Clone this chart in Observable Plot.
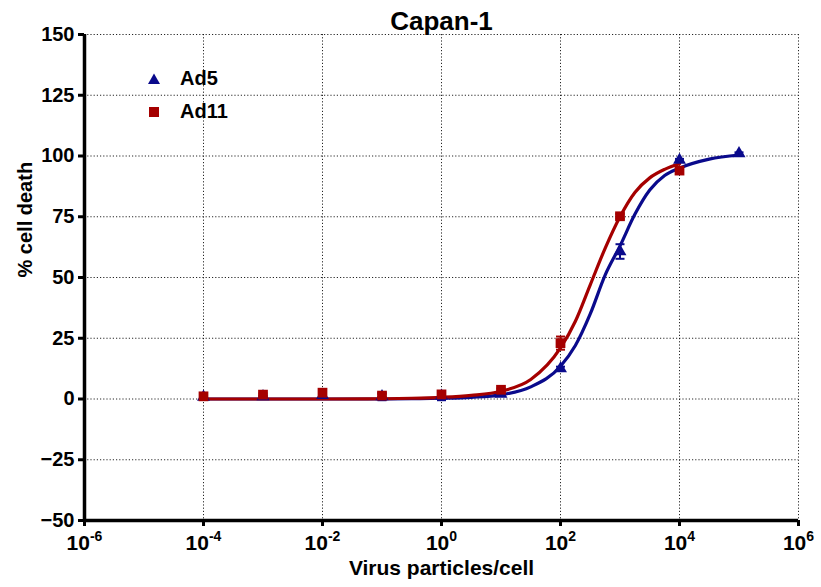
<!DOCTYPE html>
<html><head><meta charset="utf-8">
<script src="https://cdn.jsdelivr.net/npm/d3@7"></script>
<script src="https://cdn.jsdelivr.net/npm/@observablehq/plot@0.6"></script>
<style>
body{margin:0;background:#fff;font-family:"Liberation Sans",Arial,sans-serif;}
#wrap{position:relative;width:821px;height:587px;}
#legend{position:absolute;left:146px;top:62px;font-weight:bold;font-size:20px;color:#000;}
#legend .row{display:flex;align-items:center;height:33px;}
#legend svg{width:16px;height:16px;margin-right:18px;}
</style></head><body><div id="wrap"><div id="legend"></div></div>
<script>
// ---- data ----
const title = "Capan-1";
const xLabel = "Virus particles/cell";
const yLabel = "% cell death";
const seriesNames = ["Ad5", "Ad11"];
const seriesColors = ["#0a0a8c", "#a50000"];
const xTickExponents = [-6, -4, -2, 0, 2, 4, 6];
const yTicks = [-50, -25, 0, 25, 50, 75, 100, 125, 150];

const ad5Dose = [1e-4, 1e-3, 1e-2, 1e-1, 1, 10, 100, 1000, 10000, 100000];
const ad5Mean = [0.8, 1.0, 1.5, 1.0, 1.3, 2.0, 12.5, 60.7, 98.3, 101];
const ad5Sem  = [0.4, 0.4, 0.6, 1.5, 1.8, 0.4, 0.8, 3.0, 0.5, 0.5];

const ad11Dose = [1e-4, 1e-3, 1e-2, 1e-1, 1, 10, 100, 1000, 10000];
const ad11Mean = [1.1, 1.8, 2.6, 1.4, 1.9, 3.8, 23, 75.2, 94];
const ad11Sem  = [0.5, 0.5, 0.8, 0.6, 0.6, 0.5, 2.7, 1.0, 1.0];

// fitted curves (log10 dose -> % death)
const ad5CurveLog = [-4, -3, -2, -1, -0.5, 0, 0.5, 1, 1.5, 2, 2.25, 2.5, 2.75, 3, 3.25, 3.5, 3.75, 4, 4.5, 5];
const ad5CurveVal = [0, 0, 0, 0, 0.1, 0.3, 0.7, 1.7, 5, 13.5, 22, 35, 51, 63, 76, 86, 92, 95, 98.7, 100.4];
const ad11CurveLog = [-4, -3, -2, -1, -0.5, 0, 0.5, 1, 1.5, 2, 2.25, 2.5, 2.75, 3, 3.25, 3.5, 3.75, 4];
const ad11CurveVal = [0, 0, 0, 0.1, 0.3, 0.7, 1.5, 3.2, 8, 21, 32, 47, 62, 75, 85, 91, 94.5, 96.8];

// ---- build tables ----
const pts = (dose, mean, sem, s) => dose.map((d, i) => ({x: d, y: mean[i], lo: mean[i] - sem[i], hi: mean[i] + sem[i], s}));
const ad5Pts = pts(ad5Dose, ad5Mean, ad5Sem, seriesNames[0]);
const ad11Pts = pts(ad11Dose, ad11Mean, ad11Sem, seriesNames[1]);
const crv = (L, V) => L.map((l, i) => ({x: Math.pow(10, l), y: V[i]}));
const ad5Curve = crv(ad5CurveLog, ad5CurveVal);
const ad11Curve = crv(ad11CurveLog, ad11CurveVal);
const xTicks = xTickExponents.map(e => Math.pow(10, e));

const capSymbol = {draw(ctx, size) { const w = Math.sqrt(size / Math.PI); ctx.moveTo(-w, 0); ctx.lineTo(w, 0); }};

const errMarks = (data, color) => [
  Plot.ruleX(data, {x: "x", y1: "lo", y2: "hi", stroke: color, strokeWidth: 2}),
  Plot.dot(data, {x: "x", y: "lo", symbol: capSymbol, r: 4.5, stroke: color, strokeWidth: 2, fill: "none"}),
  Plot.dot(data, {x: "x", y: "hi", symbol: capSymbol, r: 4.5, stroke: color, strokeWidth: 2, fill: "none"})
];

const chart = Plot.plot({
  width: 821, height: 587,
  marginLeft: 84, marginRight: 23, marginTop: 34, marginBottom: 67,
  style: {fontFamily: "'Liberation Sans', Arial, sans-serif", fontWeight: "bold", fontSize: "20px", color: "#000", background: "#fff"},
  x: {type: "log", domain: [1e-6, 1e6]},
  y: {domain: [-50, 150]},
  marks: [
    Plot.gridX(xTicks, {stroke: "#000", strokeOpacity: 0.85, strokeDasharray: "1.2,2", strokeWidth: 1}),
    Plot.gridY(yTicks, {stroke: "#000", strokeOpacity: 0.85, strokeDasharray: "1.2,2", strokeWidth: 1}),
    Plot.axisX(xTicks, {tickSize: 6, strokeWidth: 3, tickPadding: 9, tickFormat: d => "10|" + Math.round(Math.log10(d)),
      label: null, fontSize: 21}),
    Plot.axisY(yTicks, {tickSize: 6, strokeWidth: 3, tickPadding: 4, label: null, fontSize: 20}),
    Plot.text([xLabel], {frameAnchor: "bottom", lineAnchor: "middle", dy: 48, fontSize: 21, fontWeight: "bold", fill: "#000"}),
    Plot.text([yLabel], {frameAnchor: "left", lineAnchor: "middle", dx: -59, rotate: -90, fontSize: 20, fontWeight: "bold", fill: "#000"}),
    Plot.ruleY([-50], {strokeWidth: 3.5, stroke: "#000"}),
    Plot.ruleX([1e-6], {strokeWidth: 3.5, stroke: "#000"}),
    Plot.line(ad5Curve, {x: "x", y: "y", stroke: seriesColors[0], strokeWidth: 3.2, curve: "monotone-x"}),
    Plot.line(ad11Curve, {x: "x", y: "y", stroke: seriesColors[1], strokeWidth: 3.2, curve: "monotone-x"}),
    ...errMarks(ad5Pts, seriesColors[0]),
    Plot.dot(ad5Pts, {x: "x", y: "y", symbol: "triangle", r: 4.8, fill: seriesColors[0], stroke: "none"}),
    ...errMarks(ad11Pts, seriesColors[1]),
    Plot.dot(ad11Pts, {x: "x", y: "y", symbol: "square", r: 5.5, fill: seriesColors[1], stroke: "none"}),
    Plot.text([title], {frameAnchor: "top", lineAnchor: "middle", dy: -13, fontSize: 26, fontWeight: "bold", fill: "#000"})
  ]
});

// superscript exponents on x tick labels
d3.select(chart).selectAll("g[aria-label='x-axis tick label'] text").each(function() {
  const t = d3.select(this);
  const parts = t.text().split("|");
  t.text(null);
  t.append("tspan").text(parts[0]);
  t.append("tspan").attr("font-size", 14).attr("dy", -9).text(parts[1]);
});

document.getElementById("wrap").prepend(chart);

// legend
const leg = document.getElementById("legend");
seriesNames.forEach((name, i) => {
  const row = document.createElement("div");
  row.className = "row";
  const shape = i === 0
    ? `<polygon points="8,2.5 14,13 2,13" fill="${seriesColors[i]}"/>`
    : `<rect x="3" y="3" width="10" height="10" fill="${seriesColors[i]}"/>`;
  row.innerHTML = `<svg viewBox="0 0 16 16">${shape}</svg><span>${name}</span>`;
  leg.appendChild(row);
});
</script></body></html>
